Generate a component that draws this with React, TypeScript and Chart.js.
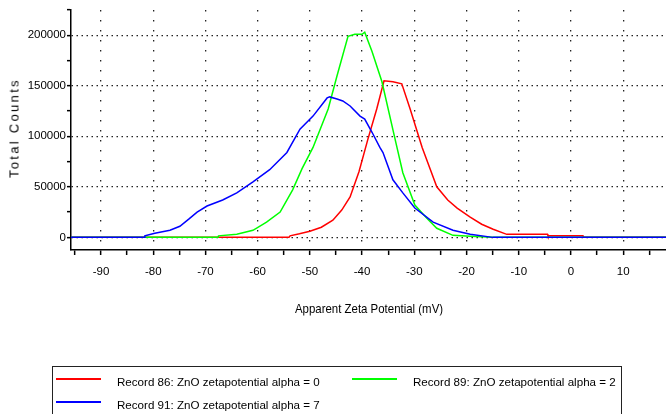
import React, { useEffect, useRef } from 'react';
import { Chart, registerables } from 'chart.js';

Chart.register(...registerables);

// ---- Data (mV, Total Counts) ----
const redX = [-95.75, -54.0, -53.8, -52.0, -50.0, -47.8, -45.6, -43.9, -42.3, -40.6, -38.9, -37.2, -35.8, -34.1, -32.4, -30.8, -28.5, -25.7, -23.6, -21.8, -19.3, -17.1, -14.9, -12.3, -4.5, -4.4, 2.3, 2.4, 18.2];
const redY = [0, 0, 1500, 3500, 6000, 10000, 17000, 27000, 40000, 65000, 97000, 127000, 155000, 154000, 152000, 127000, 89000, 50000, 37000, 29000, 20000, 13000, 8000, 3000, 3000, 1500, 1500, 0, 0];

const greenX = [-95.75, -67.6, -67.5, -64.0, -60.9, -58.3, -55.7, -53.3, -51.5, -49.4, -46.5, -44.8, -42.7, -41.4, -40.0, -39.5, -38.1, -36.2, -33.5, -32.2, -29.9, -27.6, -25.7, -22.6, -19.3, -15.0, 18.2];
const greenY = [0, 0, 1500, 3000, 7000, 15000, 25000, 47000, 68000, 89000, 127000, 160000, 199000, 201000, 201000, 203000, 184000, 154000, 93000, 64000, 32000, 19000, 9000, 2000, 1000, 0, 0];

const blueX = [-95.75, -81.7, -81.6, -79.7, -76.8, -74.9, -73.2, -71.6, -69.7, -66.7, -64.0, -60.9, -57.7, -54.4, -51.9, -49.4, -46.7, -46.2, -44.8, -43.7, -42.3, -40.4, -39.5, -38.1, -36.6, -36.0, -34.1, -32.2, -29.9, -26.4, -22.6, -19.3, -15.0, 18.2];
const blueY = [0, 0, 1500, 4000, 7000, 11000, 18000, 25000, 31000, 37000, 44000, 55000, 67000, 84000, 107000, 120000, 138000, 139000, 137000, 135000, 130000, 120000, 117000, 104000, 89000, 84000, 57000, 44000, 29000, 15000, 7000, 3000, 0, 0];

// tick positions (minor + major) and the labelled ones
const xTickValues = [-95, -90, -85, -80, -75, -70, -65, -60, -55, -50, -45, -40, -35, -30, -25, -20, -15, -10, -5, 0, 5, 10, 15];
const xLabelValues = [-90, -80, -70, -60, -50, -40, -30, -20, -10, 0, 10];
const yTickValues = [0, 25000, 50000, 75000, 100000, 125000, 150000, 175000, 200000, 225000];
const yLabelValues = [0, 50000, 100000, 150000, 200000];

const xMin = -95.75;
const xMax = 18.2;
const yMin = -12500;
const yMax = 225000;

const seriesNames = [
  'Record 86: ZnO zetapotential alpha = 0',
  'Record 89: ZnO zetapotential alpha = 2',
  'Record 91: ZnO zetapotential alpha = 7',
];
const seriesColors = ['#ff0000', '#00ff00', '#0000ff'];

const xTitle = 'Apparent Zeta Potential (mV)';
const yTitle = 'Total Counts';

const FONT = '"Liberation Sans", Arial, sans-serif';

function toPoints(xs: number[], ys: number[]) {
  return xs.map((x, i) => ({ x, y: ys[i] }));
}

export default function App() {
  const canvasRef = useRef<HTMLCanvasElement | null>(null);

  useEffect(() => {
    if (!canvasRef.current) return;
    const chart = new Chart(canvasRef.current, {
      type: 'line',
      data: {
        datasets: [
          { label: seriesNames[0], data: toPoints(redX, redY), borderColor: seriesColors[0], borderWidth: 1.5, order: 2 },
          { label: seriesNames[1], data: toPoints(greenX, greenY), borderColor: seriesColors[1], borderWidth: 1.5, order: 1 },
          { label: seriesNames[2], data: toPoints(blueX, blueY), borderColor: seriesColors[2], borderWidth: 1.5, order: 0 },
        ],
      },
      options: {
        animation: false,
        responsive: false,
        parsing: false as any,
        layout: { padding: { top: 10, left: 0, right: 0, bottom: 0 } },
        plugins: { legend: { display: false }, tooltip: { enabled: false } },
        elements: { point: { radius: 0 }, line: { tension: 0, fill: false } },
        scales: {
          x: {
            type: 'linear',
            min: xMin,
            max: xMax,
            afterBuildTicks: (s: any) => {
              s.ticks = xTickValues.map((v) => ({ value: v }));
            },
            afterFit: (s: any) => {
              s.height = 164;
              s.paddingLeft = 0;
              s.paddingRight = 0;
            },
            ticks: {
              autoSkip: false,
              maxRotation: 0,
              padding: 10,
              color: '#000',
              font: { family: FONT, size: 11.5 },
              callback: (v: any) => (xLabelValues.includes(Number(v)) ? String(v) : ''),
            },
            grid: {
              color: (ctx: any) => (ctx.tick && xLabelValues.includes(ctx.tick.value) ? '#222' : 'rgba(0,0,0,0)'),
              lineWidth: 1.3,
              tickColor: '#000',
              tickWidth: 1.5,
              tickLength: 5,
            },
            border: { display: true, color: '#000', width: 1.5, dash: [1.5, 8.5] },
          },
          y: {
            type: 'linear',
            min: yMin,
            max: yMax,
            afterBuildTicks: (s: any) => {
              s.ticks = yTickValues.map((v) => ({ value: v }));
            },
            afterFit: (s: any) => {
              s.width = 71;
              s.paddingTop = 0;
              s.paddingBottom = 0;
            },
            ticks: {
              autoSkip: false,
              padding: 1,
              color: '#000',
              font: { family: FONT, size: 11.5 },
              callback: (v: any) => (yLabelValues.includes(Number(v)) ? String(v) : ''),
            },
            grid: {
              color: (ctx: any) => (ctx.tick && yLabelValues.includes(ctx.tick.value) ? '#222' : 'rgba(0,0,0,0)'),
              lineWidth: 1.3,
              tickColor: '#000',
              tickWidth: 1.5,
              tickLength: 4,
            },
            border: { display: true, color: '#000', width: 1.5, dash: [1.5, 3.5] },
          },
        },
      },
    });
    return () => chart.destroy();
  }, []);

  const textStyle: React.CSSProperties = {
    position: 'absolute',
    fontFamily: FONT,
    color: '#000',
    whiteSpace: 'nowrap',
  };

  return (
    <div style={{ position: 'fixed', left: 0, top: 0, width: 666, height: 414, overflow: 'hidden', background: '#fff' }}>
      <canvas ref={canvasRef} width={666} height={414} style={{ display: 'block', width: 666, height: 414 }} />
      <div
        style={{
          ...textStyle,
          left: 369,
          top: 308,
          fontSize: 13,
          transform: 'translate(-50%, -50%) scaleX(0.88)',
        }}
      >
        {xTitle}
      </div>
      <div
        style={{
          ...textStyle,
          left: 14,
          top: 128,
          fontSize: 13,
          letterSpacing: '2.3px',
          transform: 'translate(-50%, -50%) rotate(-90deg)',
        }}
      >
        {yTitle}
      </div>
      <div
        style={{
          position: 'absolute',
          left: 52,
          top: 366,
          width: 570,
          height: 70,
          border: '1px solid #222',
          boxSizing: 'border-box',
        }}
      >
        {[0, 1, 2].map((i) => {
          const col = i === 1 ? 1 : 0;
          const row = i === 2 ? 1 : 0;
          const lineLeft = col === 0 ? 3 : 299;
          const textLeft = col === 0 ? 64 : 360;
          const cy = row === 0 ? 12 : 35;
          return (
            <React.Fragment key={i}>
              <div
                style={{
                  position: 'absolute',
                  left: lineLeft,
                  top: cy - 1,
                  width: 45,
                  height: 2,
                  background: seriesColors[i],
                }}
              />
              <div
                style={{
                  ...textStyle,
                  left: textLeft,
                  top: cy + 2,
                  fontSize: 11.6,
                  transform: 'translateY(-50%)',
                }}
              >
                {seriesNames[i]}
              </div>
            </React.Fragment>
          );
        })}
      </div>
    </div>
  );
}
